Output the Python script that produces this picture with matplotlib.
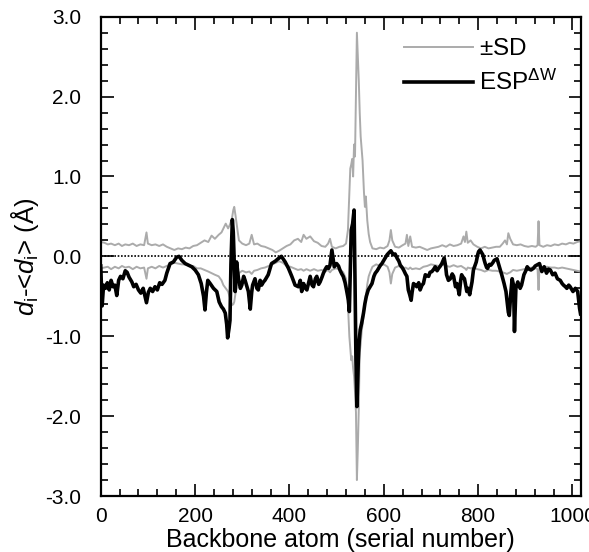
import numpy as np
import matplotlib.pyplot as plt
from matplotlib.ticker import MultipleLocator, FormatStrFormatter

# ===== DATA =====
# black trace: ESP^dW deviation per backbone atom
esp_x = [0, 3, 6, 10, 14, 18, 22, 26, 30, 34, 38, 42, 47, 52, 56, 60, 66, 70, 75, 80,
         85, 90, 94, 97, 101, 105, 110, 115, 120, 125, 130, 136, 140, 147, 154, 161, 166, 172, 179, 186,
         193, 200, 207, 213, 218, 221, 224, 227, 232, 239, 246, 251, 256, 260, 264, 267, 269, 272, 274, 276,
         279, 281, 283, 285, 288, 292, 296, 299, 303, 306, 310, 313, 317, 320, 322, 327, 331, 334, 338, 341,
         345, 348, 352, 355, 362, 370, 376, 383, 391, 398, 405, 412, 419, 423, 426, 430, 434, 437, 441, 444,
         448, 451, 455, 458, 462, 465, 469, 472, 476, 479, 483, 486, 490, 493, 495, 500, 504, 507, 511, 514,
         518, 521, 525, 527, 529, 531, 534, 537, 539, 541, 543, 546, 548, 550, 553, 557, 560, 563, 567, 571,
         575, 579, 582, 586, 589, 593, 596, 600, 603, 607, 610, 615, 620, 624, 628, 632, 635, 639, 642, 646,
         649, 652, 655, 658, 660, 663, 667, 670, 674, 677, 681, 684, 688, 691, 695, 698, 702, 706, 709, 713,
         716, 720, 723, 728, 731, 733, 737, 741, 745, 748, 752, 755, 758, 760, 763, 765, 768, 771, 774, 776,
         779, 782, 785, 787, 790, 793, 796, 799, 801, 804, 807, 810, 813, 815, 818, 820, 824, 827, 831, 834,
         837, 840, 845, 850, 855, 859, 862, 864, 866, 869, 872, 875, 877, 880, 884, 889, 892, 897, 901, 904,
         908, 912, 917, 921, 924, 930, 935, 940, 945, 949, 953, 958, 963, 968, 974, 978, 981, 985, 988, 992,
         995, 1001, 1006, 1011, 1015, 1017]
esp_y = [-0.12, -0.62, -0.36, -0.40, -0.33, -0.42, -0.30, -0.38, -0.36, -0.49, -0.30, -0.25, -0.28, -0.18, -0.20, -0.26, -0.32, -0.38, -0.35, -0.42,
         -0.46, -0.40, -0.50, -0.58, -0.45, -0.40, -0.44, -0.38, -0.42, -0.33, -0.35, -0.30, -0.21, -0.09, -0.07, -0.01, 0.00, -0.05, -0.09, -0.11,
         -0.13, -0.17, -0.23, -0.34, -0.50, -0.67, -0.45, -0.30, -0.34, -0.40, -0.44, -0.57, -0.63, -0.66, -0.71, -0.85, -1.02, -0.90, -0.80, -0.10,
         0.46, 0.30, -0.05, -0.44, -0.07, -0.28, -0.40, -0.36, -0.25, -0.30, -0.38, -0.44, -0.66, -0.45, -0.36, -0.28, -0.40, -0.42, -0.30, -0.36,
         -0.32, -0.30, -0.26, -0.23, -0.09, -0.06, -0.03, 0.00, -0.07, -0.15, -0.25, -0.36, -0.38, -0.30, -0.44, -0.34, -0.40, -0.42, -0.32, -0.25,
         -0.36, -0.38, -0.28, -0.25, -0.35, -0.32, -0.26, -0.21, -0.16, -0.13, -0.15, -0.11, 0.08, -0.05, -0.13, -0.09, -0.12, -0.17, -0.22, -0.25,
         -0.33, -0.42, -0.55, -0.69, -0.20, 0.33, 0.41, 0.58, -0.30, -1.30, -1.88, -1.30, -1.05, -0.92, -0.84, -0.71, -0.59, -0.50, -0.42, -0.38,
         -0.34, -0.25, -0.21, -0.18, -0.15, -0.11, -0.09, -0.05, -0.02, 0.02, 0.04, 0.07, 0.02, 0.03, -0.02, -0.06, -0.11, -0.14, -0.17, -0.22,
         -0.25, -0.42, -0.48, -0.55, -0.45, -0.34, -0.36, -0.38, -0.33, -0.42, -0.36, -0.34, -0.23, -0.24, -0.25, -0.20, -0.19, -0.16, -0.13, -0.18,
         -0.15, -0.12, -0.09, -0.02, -0.12, -0.23, -0.30, -0.28, -0.22, -0.25, -0.38, -0.34, -0.42, -0.48, -0.30, -0.23, -0.26, -0.28, -0.38, -0.44,
         -0.40, -0.48, -0.38, -0.32, -0.17, -0.12, -0.07, 0.02, 0.06, 0.08, 0.05, 0.02, -0.05, -0.09, -0.14, -0.15, -0.10, -0.11, -0.08, -0.05,
         -0.04, -0.03, -0.13, -0.23, -0.34, -0.44, -0.60, -0.70, -0.74, -0.48, -0.28, -0.36, -0.94, -0.40, -0.32, -0.40, -0.36, -0.23, -0.18, -0.13,
         -0.16, -0.17, -0.15, -0.12, -0.11, -0.09, -0.19, -0.13, -0.21, -0.16, -0.17, -0.23, -0.21, -0.28, -0.30, -0.34, -0.36, -0.38, -0.40, -0.36,
         -0.38, -0.44, -0.40, -0.44, -0.65, -0.72]

# grey traces: +SD (upper) and -SD (lower)
sd_x = [0, 8, 15, 22, 30, 38, 45, 52, 60, 68, 76, 84, 92, 97, 100, 108, 116, 124, 132, 140,
        148, 156, 164, 172, 180, 188, 196, 204, 212, 220, 228, 235, 242, 250, 256, 260, 265, 270, 274, 278,
        281, 283, 286, 288, 291, 293, 300, 308, 315, 320, 325, 332, 340, 348, 356, 364, 371, 378, 386, 394,
        402, 410, 418, 425, 430, 436, 444, 452, 460, 468, 476, 482, 486, 490, 498, 506, 514, 520, 524, 527,
        529, 531, 533, 535, 537, 539, 541, 543, 545, 547, 549, 551, 553, 555, 558, 560, 562, 565, 568, 571,
        576, 584, 592, 600, 608, 612, 615, 618, 624, 632, 640, 646, 649, 652, 656, 660, 668, 676, 684, 692,
        700, 708, 716, 724, 732, 740, 748, 756, 764, 769, 772, 775, 778, 784, 790, 798, 806, 814, 822, 830,
        838, 846, 852, 857, 861, 864, 868, 874, 882, 890, 898, 906, 914, 922, 926, 928, 930, 938, 946, 954,
        962, 970, 978, 986, 994, 1002, 1010, 1017]
sd_hi = [0.18, 0.17, 0.15, 0.16, 0.14, 0.16, 0.13, 0.15, 0.14, 0.16, 0.13, 0.15, 0.14, 0.30, 0.16, 0.14, 0.15, 0.13, 0.15, 0.12,
         0.10, 0.08, 0.10, 0.09, 0.11, 0.10, 0.13, 0.14, 0.17, 0.20, 0.18, 0.26, 0.22, 0.27, 0.30, 0.35, 0.41, 0.35, 0.40, 0.47,
         0.58, 0.62, 0.50, 0.41, 0.28, 0.20, 0.16, 0.14, 0.16, 0.27, 0.15, 0.16, 0.13, 0.12, 0.10, 0.08, 0.05, 0.07, 0.10, 0.13,
         0.15, 0.20, 0.22, 0.18, 0.27, 0.22, 0.25, 0.19, 0.17, 0.13, 0.12, 0.16, 0.22, 0.12, 0.10, 0.12, 0.13, 0.16, 0.33, 0.80,
         1.10, 1.15, 1.22, 1.00, 1.40, 1.25, 2.00, 2.80, 2.50, 2.20, 1.80, 1.50, 1.35, 1.20, 0.80, 0.62, 0.75, 0.45, 0.28, 0.18,
         0.10, 0.09, 0.11, 0.10, 0.13, 0.20, 0.33, 0.20, 0.12, 0.11, 0.14, 0.16, 0.27, 0.13, 0.25, 0.12, 0.11, 0.12, 0.10, 0.08,
         0.10, 0.11, 0.12, 0.14, 0.12, 0.15, 0.13, 0.14, 0.16, 0.25, 0.18, 0.31, 0.17, 0.20, 0.15, 0.12, 0.10, 0.12, 0.10, 0.11,
         0.12, 0.12, 0.16, 0.20, 0.15, 0.29, 0.22, 0.15, 0.14, 0.15, 0.13, 0.12, 0.13, 0.12, 0.14, 0.44, 0.14, 0.12, 0.14, 0.13,
         0.15, 0.14, 0.16, 0.15, 0.17, 0.16, 0.18, 0.19]
sd_lo = [-0.15, -0.14, -0.13, -0.16, -0.13, -0.15, -0.12, -0.14, -0.13, -0.16, -0.13, -0.15, -0.14, -0.28, -0.15, -0.13, -0.15, -0.12, -0.14, -0.12,
         -0.10, -0.08, -0.09, -0.10, -0.10, -0.12, -0.12, -0.15, -0.15, -0.17, -0.19, -0.21, -0.23, -0.25, -0.30, -0.36, -0.40, -0.44, -0.52, -0.61,
         -0.60, -0.57, -0.45, -0.40, -0.28, -0.21, -0.18, -0.20, -0.19, -0.22, -0.18, -0.17, -0.15, -0.14, -0.12, -0.10, -0.08, -0.06, -0.08, -0.12,
         -0.13, -0.15, -0.17, -0.16, -0.18, -0.16, -0.18, -0.16, -0.18, -0.17, -0.19, -0.17, -0.20, -0.17, -0.15, -0.16, -0.20, -0.28, -0.60, -1.00,
         -1.15, -1.30, -1.25, -1.40, -1.50, -1.70, -1.95, -2.80, -2.40, -1.90, -1.20, -1.10, -0.95, -0.85, -0.70, -0.60, -0.50, -0.35, -0.25, -0.20,
         -0.13, -0.10, -0.12, -0.10, -0.13, -0.20, -0.34, -0.22, -0.14, -0.12, -0.15, -0.14, -0.15, -0.16, -0.14, -0.16, -0.15, -0.16, -0.13, -0.12,
         -0.10, -0.11, -0.12, -0.10, -0.12, -0.13, -0.11, -0.13, -0.12, -0.14, -0.15, -0.17, -0.14, -0.15, -0.14, -0.16, -0.17, -0.19, -0.17, -0.18,
         -0.18, -0.19, -0.20, -0.21, -0.22, -0.21, -0.20, -0.17, -0.18, -0.17, -0.16, -0.15, -0.14, -0.15, -0.16, -0.42, -0.15, -0.14, -0.13, -0.14,
         -0.14, -0.15, -0.14, -0.15, -0.16, -0.17, -0.18, -0.19]

x_ticks = [0, 200, 400, 600, 800, 1000]
y_ticks = [-3.0, -2.0, -1.0, 0.0, 1.0, 2.0, 3.0]

# ===== STYLE =====
plt.rcParams['font.family'] = ['Liberation Sans', 'DejaVu Sans']
plt.rcParams['mathtext.fontset'] = 'custom'
plt.rcParams['mathtext.rm'] = 'Liberation Sans'
plt.rcParams['mathtext.it'] = 'Liberation Sans:italic'
plt.rcParams['axes.unicode_minus'] = False

fig = plt.figure(figsize=(5.89, 5.52), dpi=100)
ax = fig.add_axes([0.171, 0.1014, 0.8154, 0.8683])

grey = '#ababab'
ax.plot(sd_x, sd_hi, color=grey, lw=1.4, label=r'$\pm$SD', zorder=2)
ax.plot(sd_x, sd_lo, color=grey, lw=1.4, zorder=2)
ax.axhline(0, color='black', ls=(0, (1.0, 1.0)), lw=1.2, zorder=3)
ax.plot(esp_x, esp_y, color='black', lw=2.6, label=r'ESP$^{\rm \Delta W}$', zorder=4)

ax.set_xlim(0, 1018)
ax.set_ylim(-3, 3)
ax.set_xticks(x_ticks)
ax.set_yticks(y_ticks)
ax.xaxis.set_minor_locator(MultipleLocator(40))
ax.yaxis.set_minor_locator(MultipleLocator(0.2))
ax.yaxis.set_major_formatter(FormatStrFormatter('%.1f'))
ax.tick_params(which='both', direction='in', top=True, right=True, width=1.2, labelsize=15)
ax.tick_params(axis='x', which='both', pad=8)
ax.tick_params(axis='y', which='both', pad=14)
ax.tick_params(which='major', length=9)
ax.tick_params(which='minor', length=5)
for s in ax.spines.values():
    s.set_linewidth(1.6)

ax.set_xlabel('Backbone atom (serial number)', fontsize=18, labelpad=1)
ax.set_ylabel(r'$d_{\rm i}$-<$d_{\rm i}$> (Å)', fontsize=18.5, labelpad=3)

ax.legend(loc='upper left', bbox_to_anchor=(0.6315, 0.955), frameon=False, fontsize=17.5,
          handlelength=2.85, handletextpad=0.25, labelspacing=0.4, borderpad=0, borderaxespad=0)

plt.savefig('out.png', dpi=100)
